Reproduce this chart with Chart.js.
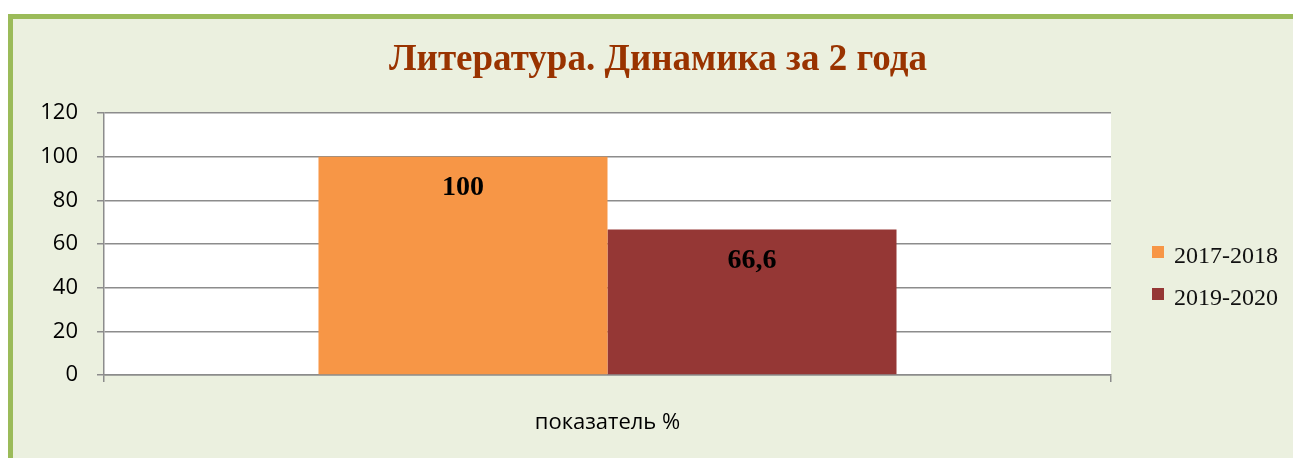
<!DOCTYPE html>
<html>
<head>
<meta charset="utf-8">
<script src="https://cdn.jsdelivr.net/npm/chart.js@4/dist/chart.umd.min.js"></script>
<style>
  html, body { margin: 0; padding: 0; background: #fff; }
  canvas { display: block; }
</style>
</head>
<body>
<canvas id="myBarChart" width="1293" height="458"></canvas>
<script>
// data
var chartTitle = 'Литература. Динамика за 2 года';
var categories = ['показатель %'];
var seriesNames = ['2017-2018', '2019-2020'];
var seriesColors = ['#F79646', '#953735'];
var seriesValues = [[100], [66.6]];
var yMin = 0, yMax = 120, yStep = 20;

var gridColor = '#8c8c8c';

function fmt(v) {
    return String(v).replace('.', ',');
}

// frame, page background, white plot area and the title
var framePlugin = {
    id: 'frame',
    beforeDraw: function (chart) {
        var ctx = chart.ctx, a = chart.chartArea;
        ctx.save();
        ctx.fillStyle = '#ffffff';
        ctx.fillRect(0, 0, chart.width, chart.height);
        ctx.fillStyle = '#EBF0DF';
        ctx.fillRect(8, 14, chart.width, chart.height);
        ctx.strokeStyle = '#9BBB59';
        ctx.lineWidth = 5;
        ctx.strokeRect(10.5, 16.5, chart.width + 10, chart.height + 10);
        ctx.fillStyle = '#ffffff';
        ctx.fillRect(a.left, a.top, a.right - a.left, a.bottom - a.top);

        ctx.font = 'bold 37px "Liberation Serif"';
        ctx.fillStyle = '#993300';
        ctx.textAlign = 'center';
        ctx.textBaseline = 'alphabetic';
        ctx.fillText(chartTitle, 658, 70);
        ctx.restore();
    }
};

// value labels inside the bars
var valueLabels = {
    id: 'valueLabels',
    afterDatasetsDraw: function (chart) {
        var ctx = chart.ctx;
        ctx.save();
        ctx.font = 'bold 28px "Liberation Serif"';
        ctx.fillStyle = '#000';
        ctx.textAlign = 'center';
        ctx.textBaseline = 'middle';
        chart.data.datasets.forEach(function (ds, i) {
            chart.getDatasetMeta(i).data.forEach(function (bar, j) {
                ctx.fillText(fmt(ds.data[j]), bar.x, bar.y + 31);
            });
        });
        ctx.restore();
    }
};

// legend on the right, Excel style
var sideLegend = {
    id: 'sideLegend',
    afterDraw: function (chart) {
        var ctx = chart.ctx;
        ctx.save();
        ctx.font = '24px "Liberation Serif"';
        ctx.textBaseline = 'alphabetic';
        ctx.textAlign = 'left';
        chart.data.datasets.forEach(function (ds, i) {
            var y = 252 + i * 42;
            ctx.fillStyle = ds.backgroundColor;
            ctx.fillRect(1152, y - 6, 12, 12);
            ctx.fillStyle = '#111';
            ctx.fillText(ds.label, 1174, y + 11);
        });
        ctx.restore();
    }
};

var ctx = document.getElementById('myBarChart').getContext('2d');
var myBarChart = new Chart(ctx, {
    type: 'bar',
    data: {
        labels: categories,
        datasets: seriesNames.map(function (name, i) {
            return {
                label: name,
                data: seriesValues[i],
                backgroundColor: seriesColors[i],
                borderWidth: 0,
                categoryPercentage: 0.574,
                barPercentage: 1.0
            };
        })
    },
    options: {
        responsive: false,
        animation: false,
        devicePixelRatio: 1,
        layout: {
            padding: { left: 0, right: 182, top: 113, bottom: 0 }
        },
        plugins: {
            legend: { display: false },
            tooltip: { enabled: false },
            title: { display: false }
        },
        scales: {
            x: {
                grid: {
                    offset: true,
                    drawOnChartArea: false,
                    drawTicks: true,
                    tickLength: 7,
                    color: gridColor,
                    lineWidth: 1.5
                },
                border: { color: gridColor, width: 1.5 },
                ticks: {
                    padding: 28,
                    color: '#000',
                    font: { family: 'Open Sans', size: 22 }
                },
                afterFit: function (scale) {
                    scale.height = 83;
                }
            },
            y: {
                min: yMin,
                max: yMax,
                ticks: {
                    stepSize: yStep,
                    padding: 19,
                    color: '#000',
                    font: { family: 'Open Sans', size: 22 }
                },
                grid: {
                    color: gridColor,
                    lineWidth: 1.5,
                    tickLength: 7
                },
                border: { color: gridColor, width: 1.5 },
                afterFit: function (scale) {
                    scale.width = 104;
                }
            }
        }
    },
    plugins: [framePlugin, valueLabels, sideLegend]
});
</script>
</body>
</html>
